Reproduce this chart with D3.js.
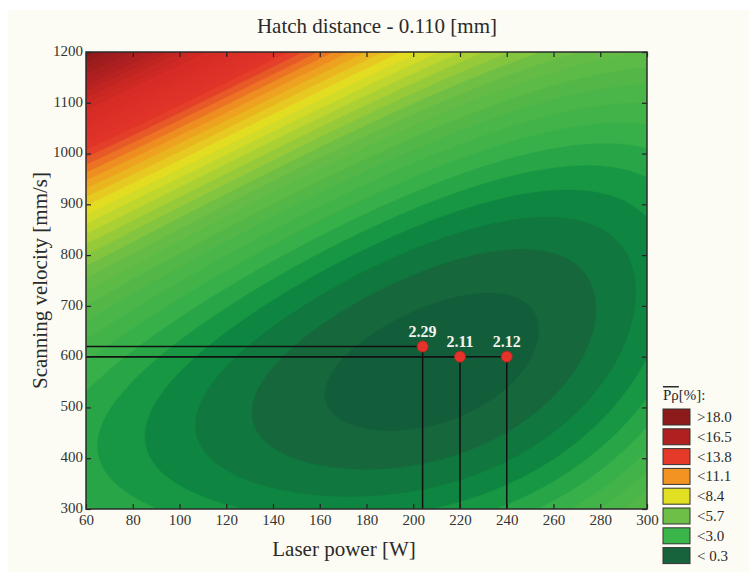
<!DOCTYPE html>
<html>
<head>
<meta charset="utf-8">
<script src="https://cdn.jsdelivr.net/npm/d3@7"></script>
<style>
  body { margin: 0; background: #fff; }
  svg text { font-family: "Liberation Serif", "DejaVu Serif", serif; fill: #2a2a2a; }
</style>
</head>
<body>
<div id="chart"></div>
<script>
// axis ticks
const powerTicks = [60, 80, 100, 120, 140, 160, 180, 200, 220, 240, 260, 280, 300];
const velocityTicks = [300, 400, 500, 600, 700, 800, 900, 1000, 1100, 1200];

// legend
const legendLabels = [">18.0", "<16.5", "<13.8", "<11.1", "<8.4", "<5.7", "<3.0", "< 0.3"];
const legendColors = ["#8e1b1b", "#b02020", "#e53a2a", "#f29322", "#e2e022", "#6dbf47", "#3ab54a", "#17643c"];

// marked experimental points
const pointPower = [204, 220, 240];
const pointVelocity = [620, 600, 600];
const pointLabels = ["2.29", "2.11", "2.12"];

// porosity at sample spots (power W, velocity mm/s, value %)
const samplePower = [195, 153, 237, 217, 174, 121, 268, 245, 143,
  60, 60, 60, 60, 60, 60, 60, 60, 60, 60,
  80, 100, 120, 140, 160, 180, 200, 240, 270, 300,
  300, 300, 300, 300, 300, 300, 300, 300,
  100, 140, 180, 220, 260];
const sampleVelocity = [580, 509, 672, 692, 471, 450, 725, 777, 383,
  300, 400, 500, 600, 700, 800, 900, 1000, 1100, 1200,
  1200, 1200, 1200, 1200, 1200, 1200, 1200, 1200, 1200, 1200,
  1000, 900, 800, 700, 600, 500, 400, 300,
  300, 300, 300, 300, 300];
const sampleValue = [0.2, 0.65, 0.65, 0.65, 0.65, 1.1, 1.1, 1.1, 1.1,
  2.6, 2.8, 3.1, 3.6, 4.5, 6.3, 8.8, 11.3, 14.5, 19.0,
  17.5, 15.8, 14.2, 12.5, 10.8, 9.2, 8.0, 6.4, 5.6, 5.0,
  3.2, 2.3, 1.6, 1.3, 1.5, 2.3, 3.4, 5.0,
  2.2, 1.8, 1.7, 2.1, 3.2];

// colour ramp stops (value %, colour)
const rampValues = [0.3, 0.9, 1.6, 2.3, 3.0, 5.7, 8.4, 10.2, 11.8, 14.5, 16.5, 19.0];
const rampColors = ["#135c3a", "#166a3c", "#0b8240", "#1a9b45", "#36b04a", "#6cbe46",
  "#e2e022", "#f0921f", "#e2352a", "#d42b25", "#b22020", "#8a1a1a"];

const width = 749, height = 572;
const plot = { left: 86, right: 647, top: 52, bottom: 509 };
const pw = plot.right - plot.left, ph = plot.bottom - plot.top;

const svg = d3.select("#chart").append("svg")
  .attr("width", width)
  .attr("height", height);

svg.append("rect").attr("x", 8).attr("y", 10)
  .attr("width", width - 8).attr("height", height - 10)
  .attr("fill", "#fcfcf4");

const xScale = d3.scaleLinear().domain([60, 300]).range([plot.left, plot.right]);
const yScale = d3.scaleLinear().domain([300, 1200]).range([plot.bottom, plot.top]);

// fit a cubic response surface in coded factors to the readings
function code(p, v) { return [(p - 180) / 120, (v - 750) / 450]; }
function terms(u, v) { return [1, u, v, u * u, v * v, u * v, u * u * u, v * v * v, u * u * v, u * v * v]; }
const k = 10;
const M = d3.range(k).map(() => new Array(k).fill(0));
const rhs = new Array(k).fill(0);
samplePower.forEach((p, i) => {
  const [u, v] = code(p, sampleVelocity[i]);
  const t = terms(u, v);
  for (let a = 0; a < k; a++) {
    rhs[a] += t[a] * sampleValue[i];
    for (let b = 0; b < k; b++) M[a][b] += t[a] * t[b];
  }
});
for (let a = 0; a < k; a++) M[a][a] += 1e-6;
// gaussian elimination
for (let c = 0; c < k; c++) {
  let piv = c;
  for (let r = c + 1; r < k; r++) if (Math.abs(M[r][c]) > Math.abs(M[piv][c])) piv = r;
  [M[c], M[piv]] = [M[piv], M[c]];
  [rhs[c], rhs[piv]] = [rhs[piv], rhs[c]];
  for (let r = c + 1; r < k; r++) {
    const f = M[r][c] / M[c][c];
    for (let b = c; b < k; b++) M[r][b] -= f * M[c][b];
    rhs[r] -= f * rhs[c];
  }
}
const coef = new Array(k).fill(0);
for (let r = k - 1; r >= 0; r--) {
  let s = rhs[r];
  for (let b = r + 1; b < k; b++) s -= M[r][b] * coef[b];
  coef[r] = s / M[r][r];
}
function surface(p, v) {
  const [u, w] = code(p, v);
  return d3.sum(terms(u, w), (t, i) => t * coef[i]);
}

const color = d3.scaleLinear().domain(rampValues).range(rampColors).clamp(true);

const nx = 280, ny = 228;
const grid = new Array(nx * ny);
for (let j = 0; j < ny; j++) {
  for (let i = 0; i < nx; i++) {
    const px = plot.left + (i + 0.5) * pw / nx;
    const py = plot.top + (j + 0.5) * ph / ny;
    grid[j * nx + i] = surface(xScale.invert(px), yScale.invert(py));
  }
}
const step = 0.45;
const thresholds = d3.range(-3, 24, step);
const contours = d3.contours().size([nx, ny]).thresholds(thresholds)(grid);
const proj = d3.geoTransform({
  point(x, y) { this.stream.point(plot.left + x * pw / nx, plot.top + y * ph / ny); }
});
const path = d3.geoPath(proj);

svg.append("clipPath").attr("id", "plotClip")
  .append("rect").attr("x", plot.left).attr("y", plot.top).attr("width", pw).attr("height", ph);

const field = svg.append("g").attr("clip-path", "url(#plotClip)");
field.selectAll("path")
  .data(contours)
  .enter()
  .append("path")
  .attr("d", path)
  .attr("fill", d => color(d.value + step / 2))
  .attr("stroke", d => color(d.value + step / 2))
  .attr("stroke-width", 0.5);

// guide lines to the points
const guides = svg.append("g");
pointPower.forEach((p, i) => {
  guides.append("line")
    .attr("x1", plot.left).attr("x2", xScale(p))
    .attr("y1", yScale(pointVelocity[i])).attr("y2", yScale(pointVelocity[i]))
    .attr("stroke", "#111").attr("stroke-width", 1.5);
  guides.append("line")
    .attr("x1", xScale(p)).attr("x2", xScale(p))
    .attr("y1", yScale(pointVelocity[i])).attr("y2", plot.bottom)
    .attr("stroke", "#111").attr("stroke-width", 1.5);
});

guides.selectAll("circle")
  .data(pointPower)
  .enter()
  .append("circle")
  .attr("cx", d => xScale(d))
  .attr("cy", (d, i) => yScale(pointVelocity[i]))
  .attr("r", 5.5)
  .attr("fill", "#e5322a")
  .attr("stroke", "#b8261f")
  .attr("stroke-width", 0.8);

guides.selectAll("text")
  .data(pointLabels)
  .enter()
  .append("text")
  .attr("x", (d, i) => xScale(pointPower[i]))
  .attr("y", (d, i) => yScale(pointVelocity[i]) - 10)
  .attr("text-anchor", "middle")
  .style("font-size", "16px")
  .style("font-weight", "bold")
  .style("fill", "#f4f4ee")
  .text(d => d);

// axes, ticks inward on all four sides
const xAxis = d3.axisBottom(xScale).tickValues(powerTicks).tickSize(-5).tickPadding(5);
const yAxis = d3.axisLeft(yScale).tickValues(velocityTicks).tickFormat(d3.format("d")).tickSize(-5).tickPadding(3);

const gx = svg.append("g").attr("transform", `translate(0,${plot.bottom})`).call(xAxis);
const gy = svg.append("g").attr("transform", `translate(${plot.left},0)`).call(yAxis);
svg.append("g").attr("transform", `translate(0,${plot.top})`)
  .call(d3.axisTop(xScale).tickValues(powerTicks).tickSize(-5).tickFormat(""));
svg.append("g").attr("transform", `translate(${plot.right},0)`)
  .call(d3.axisRight(yScale).tickValues(velocityTicks).tickSize(-5).tickFormat(""));

svg.selectAll(".domain").remove();
svg.selectAll(".tick line").attr("stroke", "#222").attr("stroke-width", 1.2);
gx.selectAll("text").style("font-size", "15px").style("fill", "#333");
gy.selectAll("text").style("font-size", "15px").style("fill", "#333").attr("dy", "0.22em");

svg.append("rect")
  .attr("x", plot.left).attr("y", plot.top)
  .attr("width", pw).attr("height", ph)
  .attr("fill", "none").attr("stroke", "#2b2b2b").attr("stroke-width", 1.5);

// titles
svg.append("text")
  .attr("x", 377).attr("y", 33)
  .attr("text-anchor", "middle")
  .style("font-size", "21px")
  .text("Hatch distance - 0.110 [mm]");

svg.append("text")
  .attr("x", 344).attr("y", 556)
  .attr("text-anchor", "middle")
  .style("font-size", "21px")
  .text("Laser power [W]");

svg.append("text")
  .attr("transform", `translate(47,${(plot.top + plot.bottom) / 2}) rotate(-90)`)
  .attr("text-anchor", "middle")
  .style("font-size", "21px")
  .text("Scanning velocity [mm/s]");

// legend
const legend = svg.append("g").attr("transform", "translate(663,0)");
const lt = legend.append("text").attr("x", 0).attr("y", 400).style("font-size", "15px");
lt.append("tspan").style("text-decoration", "overline").text("Pρ");
lt.append("tspan").text("[%]:");

legend.selectAll("rect")
  .data(legendColors)
  .enter()
  .append("rect")
  .attr("x", 0)
  .attr("y", (d, i) => 409 + i * 19.8)
  .attr("width", 27)
  .attr("height", 16)
  .attr("fill", d => d)
  .attr("stroke", "#333")
  .attr("stroke-width", 1);

legend.selectAll("text.lab")
  .data(legendLabels)
  .enter()
  .append("text")
  .attr("class", "lab")
  .attr("x", 34)
  .attr("y", (d, i) => 409 + i * 19.8 + 13)
  .style("font-size", "15px")
  .text(d => d);
</script>
</body>
</html>
